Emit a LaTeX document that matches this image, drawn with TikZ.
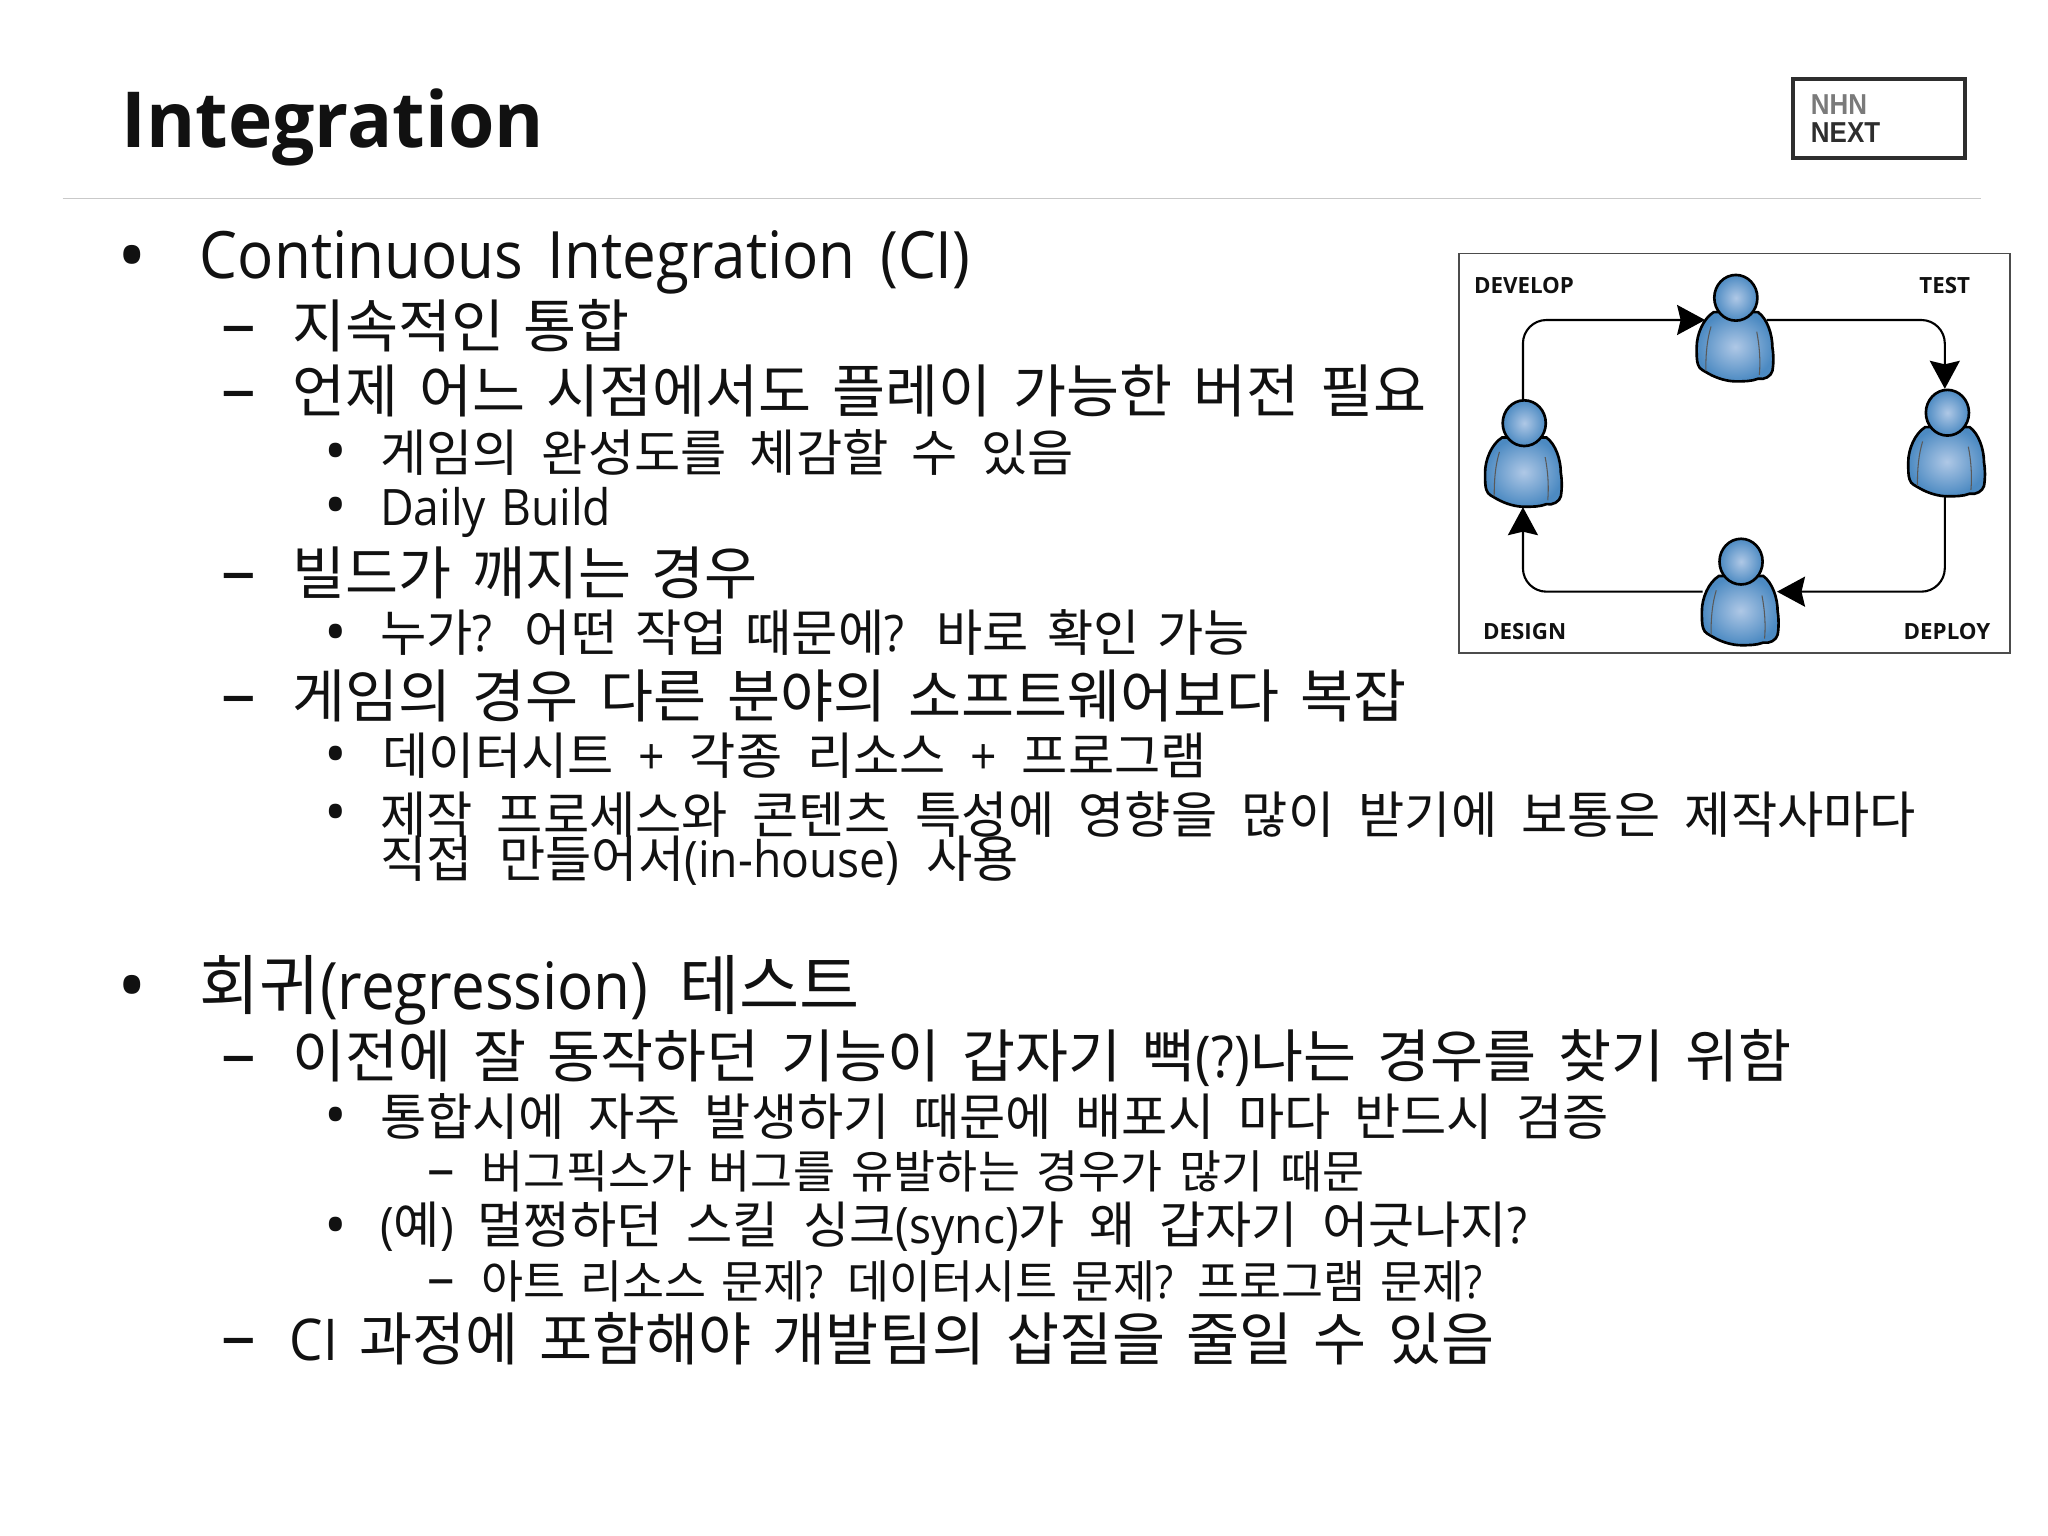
\documentclass[tikz,border=0pt]{standalone}
\usepackage{fontspec}
\usetikzlibrary{arrows.meta,calc}
\setmainfont{Noto Sans CJK KR}
\newfontfamily\lat[FakeStretch=0.92]{Open Sans}
\newfontfamily\titlefont[FakeStretch=0.97]{Open Sans}
\newfontfamily\labelfont{Open Sans}
\newfontfamily\markfont[Scale=1.2]{Open Sans}
\newfontfamily\logofont[FakeStretch=0.9]{Liberation Sans}
\newdimen\uu \uu=0.013061cm
\definecolor{ink}{HTML}{111111}
\definecolor{rulegray}{HTML}{C9C9C9}
\definecolor{logoDark}{HTML}{2E2E2E}
\definecolor{logoGray}{HTML}{7A7A7A}
\definecolor{figLight}{HTML}{AFC8E6}
\definecolor{figDark}{HTML}{4C8AC2}
\tikzset{
  txt/.style={anchor=base west,inner sep=0pt,outer sep=0pt,text=ink},
  bulletmark/.style={anchor=base,inner sep=0pt,text=ink},
  lvA/.style={font=\fontsize{18.6}{22}\selectfont},
  lvB/.style={font=\fontsize{16.4}{20}\selectfont},
  lvC/.style={font=\fontsize{14.3}{18}\selectfont},
  lvD/.style={font=\fontsize{13}{16}\selectfont},
  figlabel/.style={anchor=base west,inner sep=0pt,text=ink,font=\labelfont\bfseries\fontsize{6.35}{8}\selectfont},
  logotext/.style={anchor=base west,inner sep=0pt,font=\logofont\bfseries\fontsize{8.2}{10}\selectfont},
  personbox/.style={minimum width=0.757cm,minimum height=1.065cm,inner sep=0pt},
  flow/.style={draw=black,line width=0.6pt,rounded corners=0.235cm,-{Stealth[length=0.28cm,width=0.3cm,inset=0.035cm]}},
}
% id, x, baseline, width, style, text
\newcommand\tx[6]{\node[txt,#5] (#1) at (#2,#3) {\hbox to #4\uu{\spaceskip=.25em plus 1fil minus .25em\relax #6}};}
% id, x, baseline, style, mark
\newcommand\mk[5]{\node[bulletmark,#4] (#1) at (#2,#3) {\markfont #5};}
% name, head x, head y
\newcommand\person[3]{%
  \node[personbox] (#1) at (#2,#3+23) {};
  \begin{scope}[shift={(#2,#3)}]
    \shade[inner color=figLight,outer color=figDark,draw=black,line width=0.75pt]
      (-17,11) .. controls (-25,16) and (-30,28) .. (-30,38)
      .. controls (-30,44) and (-30,48) .. (-29,51)
      .. controls (-28,55) and (-24,56) .. (-21,58)
      .. controls (-14,62) and (-6,64) .. (0,64)
      .. controls (6,64) and (12,64) .. (17,62)
      .. controls (22,63) and (27,60) .. (28,56)
      .. controls (29,50) and (29,44) .. (28,38)
      .. controls (28,28) and (24,16) .. (17,11) -- cycle;
    \draw[gray!70!black,line width=0.3pt] (-19,22) .. controls (-22,32) and (-23,42) .. (-23,56);
    \draw[gray!70!black,line width=0.3pt] (16,26) .. controls (18,36) and (19,48) .. (18,59);
    \shade[inner color=figLight,outer color=figDark,draw=black,line width=0.75pt]
      (0,0) ellipse (16.5 and 17.5);
  \end{scope}}
\begin{document}
\begin{tikzpicture}[x=0.013061cm,y=-0.013061cm]
\useasboundingbox (0,0) rectangle (1568,1176);
\fill[white] (0,0) rectangle (1568,1176);

% header
\node[txt,font=\titlefont\bfseries\fontsize{22}{26}\selectfont] (title) at (93,113) {Integration};
\draw[rulegray,line width=0.55pt] (48,152) -- (1517,152);
\node[draw=logoDark,line width=1.15pt,minimum width=1.72cm,minimum height=0.79cm,inner sep=0pt] (logo) at (1438.5,90.5) {};
\node[logotext,text=logoGray] (nhn) at (1386,88) {NHN};
\node[logotext,text=logoDark] (next) at (1386,109) {NEXT};

% first block
\mk{m1}{101}{217}{lvA}{•}
\tx{t1}{153}{213}{590}{lvA}{\lat Continuous Integration (CI)}
\mk{m2}{183}{266}{lvB}{–}
\tx{t2}{224}{266}{258}{lvB}{지속적인 통합}
\mk{m3}{183}{316}{lvB}{–}
\tx{t3}{224}{316}{868}{lvB}{언제 어느 시점에서도 플레이 가능한 버전 필요}
\mk{m4}{257}{362}{lvC}{•}
\tx{t4}{291}{361}{531}{lvC}{게임의 완성도를 체감할 수 있음}
\mk{m5}{257}{403}{lvC}{•}
\tx{t5}{291}{402}{177}{lvC}{\lat Daily Build}
\mk{m6}{183}{455}{lvB}{–}
\tx{t6}{224}{455}{356}{lvB}{빌드가 깨지는 경우}
\mk{m7}{257}{500}{lvC}{•}
\tx{t7}{291}{499}{666}{lvC}{누가{\lat ?} 어떤 작업 때문에{\lat ?} 바로 확인 가능}
\mk{m8}{183}{549}{lvB}{–}
\tx{t8}{224}{549}{853}{lvB}{게임의 경우 다른 분야의 소프트웨어보다 복잡}
\mk{m9}{257}{594}{lvC}{•}
\tx{t9}{293}{593}{631}{lvC}{데이터시트 {\lat +} 각종 리소스 {\lat +} 프로그램}
\mk{m10}{257}{638}{lvC}{•}
\tx{t10}{291}{638}{1176}{lvC}{제작 프로세스와 콘텐츠 특성에 영향을 많이 받기에 보통은 제작사마다}
\tx{t11}{291}{672}{489}{lvC}{직접 만들어서{\lat (in-house)} 사용}

% second block
\mk{m12}{101}{776}{lvA}{•}
\tx{t12}{153}{773}{505}{lvA}{회귀{\lat (regression)} 테스트}
\mk{m13}{183}{825}{lvB}{–}
\tx{t13}{224}{825}{1148}{lvB}{이전에 잘 동작하던 기능이 갑자기 뻑{\lat (?)}나는 경우를 찾기 위함}
\mk{m14}{257}{870}{lvC}{•}
\tx{t14}{291}{869}{941}{lvC}{통합시에 자주 발생하기 때문에 배포시 마다 반드시 검증}
\mk{m15}{338}{909}{lvD}{–}
\tx{t15}{369}{910}{676}{lvD}{버그픽스가 버그를 유발하는 경우가 많기 때문}
\mk{m16}{257}{954}{lvC}{•}
\tx{t16}{291}{952}{878}{lvC}{{\lat (}예{\lat )} 멀쩡하던 스킬 싱크{\lat (sync)}가 왜 갑자기 어긋나지{\lat ?}}
\mk{m17}{338}{993}{lvD}{–}
\tx{t17}{369}{994}{766}{lvD}{아트 리소스 문제{\lat ?} 데이터시트 문제{\lat ?} 프로그램 문제{\lat ?}}
\mk{m18}{183}{1041}{lvB}{–}
\tx{t18}{222}{1042}{922}{lvB}{{\lat CI} 과정에 포함해야 개발팀의 삽질을 줄일 수 있음}

% figure
\node[draw=black!70,line width=0.4pt,minimum width=5.512cm,minimum height=3.997cm,inner sep=0pt] (panel) at (1328,347) {};
\node[figlabel] (develop) at (1128,225) {DEVELOP};
\node[figlabel] (test) at (1469,225) {TEST};
\node[figlabel] (design) at (1135,490) {DESIGN};
\node[figlabel] (deploy) at (1457,490) {DEPLOY};

\person{ptop}{1329}{228}
\person{pright}{1491}{316}
\person{pleft}{1167}{324}
\person{pbottom}{1333}{430}

\coordinate (ptop-in) at ($(ptop.west)+(6,-6)$);
\coordinate (ptop-out) at ($(ptop.east)+(-6,-6)$);
\coordinate (pright-in) at ($(pright.north)+(-2,0)$);
\coordinate (pright-out) at ($(pright.south)+(-2,0)$);
\coordinate (pbottom-in) at ($(pbottom.east)+(-2,0)$);
\coordinate (pleft-in) at ($(pleft.south)+(-1,0)$);
\coordinate (pleft-out) at ($(pleft.north)+(-1,0)$);

\draw[flow] (pleft-out) |- (ptop-in);
\draw[flow] (ptop-out) -| (pright-in);
\draw[flow] (pright-out) |- (pbottom-in);
\draw[flow] (pbottom.west) -| (pleft-in);
\end{tikzpicture}
\end{document}
